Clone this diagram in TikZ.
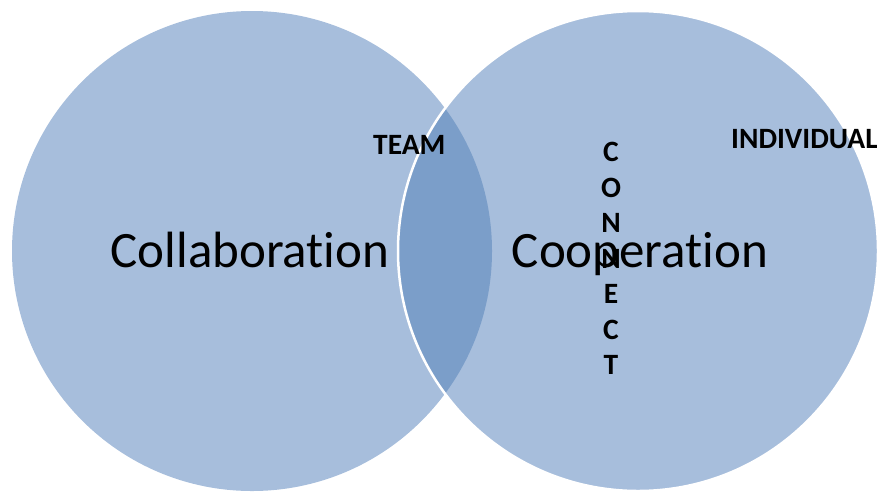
\documentclass[tikz,border=0pt]{standalone}
\usepackage{fontspec}
\setmainfont[Ligatures=NoCommon]{Carlito}
\definecolor{vennfill}{RGB}{167,190,220}
\definecolor{lensfill}{RGB}{123,158,201}
\begin{document}
\begin{tikzpicture}[x=1pt,y=-1pt,
  bigtext/.style={inner sep=0pt,anchor=base,font=\fontsize{51}{60}\selectfont},
  smalltext/.style={inner sep=0pt,font=\bfseries\fontsize{29.5}{35.5}\selectfont}]
  \useasboundingbox (0,0) rectangle (877,491);
  \coordinate (cl) at (252,251);
  \coordinate (cr) at (638,251);
  \fill[vennfill] (cl) circle[radius=240];
  \fill[vennfill] (cr) circle[radius=240];
  \begin{scope}
    \clip (cl) circle[radius=240];
    \fill[lensfill] (cr) circle[radius=240];
  \end{scope}
  \draw[white,line width=2.5pt] (cr) circle[radius=240];
  \node[bigtext] (collab) at (250,267) {Collaboration};
  \node[bigtext] (coop) at (640,267) {Cooperation};
  \node[smalltext,anchor=base west] (team) at (373,154) {TEAM};
  \node[smalltext,anchor=base west] (indiv) at (731,148) {INDIVIDUAL};
  \node[smalltext,anchor=north,align=center] (connect) at (611,142) {C\\O\\N\\N\\E\\C\\T};
\end{tikzpicture}
\end{document}
